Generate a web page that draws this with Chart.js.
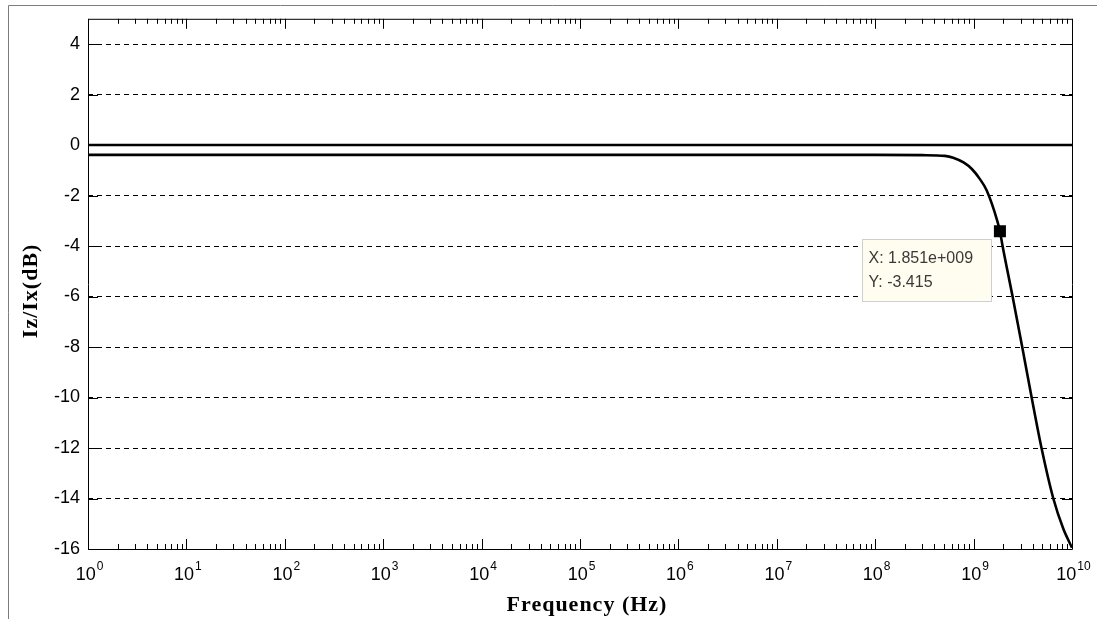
<!DOCTYPE html>
<html>
<head>
<meta charset="utf-8">
<title>Iz/Ix frequency response</title>
<script src="https://cdn.jsdelivr.net/npm/chart.js@4.4.0/dist/chart.umd.min.js"></script>
<style>
  html, body { margin: 0; padding: 0; background: #fff; }
  #wrap { width: 1097px; height: 619px; }
</style>
</head>
<body>
<div id="wrap"><canvas id="resp" width="1097" height="619"></canvas></div>
<script>
// Iz/Ix magnitude response (dB) vs frequency
const freqHz = [1, 1e2, 1e4, 1e6, 1e8, 3e8, 5.1e8, 6.2e8, 7.9e8, 9.6e8, 1.16e9, 1.36e9, 1.74e9, 1.851e9, 1.97e9, 2.49e9, 3.12e9, 3.89e9, 4.9e9, 6.46e9, 8.16e9, 1e10];
const gainDb = [-0.39, -0.39, -0.39, -0.39, -0.39, -0.4, -0.43, -0.5, -0.69, -0.95, -1.35, -1.8, -3.0, -3.415, -4, -6, -8, -10, -12, -14, -15.2, -15.95];

// 0 dB reference line
const refFreqHz = [1, 1e10];
const refDb = [0, 0];

// data cursor
const tipFreqHz = [1.851e9];
const tipDb = [-3.415];

const yTicks = [-16, -14, -12, -10, -8, -6, -4, -2, 0, 2, 4];
const xDecades = [0, 1, 2, 3, 4, 5, 6, 7, 8, 9, 10];
const yMin = -16, yMax = 5;

const xTitle = 'Frequency (Hz)';
const yTitle = 'Iz/Ix(dB)';

const pts = (xs, ys) => xs.map((x, i) => ({ x: x, y: ys[i] }));

// matlab style number for the data cursor, e.g. 1.851e+009
function matlabExp(v) {
  const e = Math.floor(Math.log10(v));
  const m = v / Math.pow(10, e);
  return m.toFixed(3) + 'e' + (e < 0 ? '-' : '+') + String(Math.abs(e)).padStart(3, '0');
}

const axesBox = {
  id: 'axesBox',
  beforeDraw(chart) {
    const ctx = chart.ctx;
    ctx.save();
    ctx.fillStyle = '#fff';
    ctx.fillRect(0, 0, chart.width, chart.height);
    // figure window edge
    ctx.strokeStyle = '#7d7d7d';
    ctx.lineWidth = 1;
    ctx.beginPath();
    ctx.moveTo(8.5, chart.height);
    ctx.lineTo(8.5, 5.5);
    ctx.lineTo(chart.width, 5.5);
    ctx.stroke();
    ctx.restore();
  },
  afterDatasetsDraw(chart) {
    const ctx = chart.ctx;
    const meta = chart.getDatasetMeta(2);
    const p = meta.data[0];
    const bx = Math.round(p.x) - 137.5, by = Math.round(p.y) + 8.5;
    ctx.save();
    ctx.fillStyle = '#fffdf0';
    ctx.strokeStyle = '#cfcfcf';
    ctx.lineWidth = 1;
    ctx.fillRect(bx, by, 129, 62);
    ctx.strokeRect(bx, by, 129, 62);
    ctx.fillStyle = '#3a3a3a';
    ctx.font = '16px "Liberation Sans", Arial, sans-serif';
    ctx.textAlign = 'left';
    ctx.textBaseline = 'alphabetic';
    ctx.fillText('X: ' + matlabExp(tipFreqHz[0]), bx + 6, by + 23);
    ctx.fillText('Y: ' + tipDb[0].toFixed(3), bx + 6, by + 47);
    ctx.restore();
  },
  afterDraw(chart) {
    const { ctx, chartArea: a, scales: { x, y } } = chart;
    ctx.save();
    ctx.strokeStyle = '#000';
    ctx.lineWidth = 1;
    ctx.beginPath();
    ctx.rect(a.left + 0.5, a.top + 0.5, a.right - a.left, a.bottom - a.top);

    // log ticks on top and bottom edges, pointing inward
    xDecades.forEach(d => {
      const px = Math.round(x.getPixelForValue(Math.pow(10, d))) + 0.5;
      ctx.moveTo(px, a.bottom); ctx.lineTo(px, a.bottom - 10);
      ctx.moveTo(px, a.top); ctx.lineTo(px, a.top + 10);
      if (d === xDecades[xDecades.length - 1]) return;
      for (let k = 2; k <= 9; k++) {
        const mx = Math.round(x.getPixelForValue(k * Math.pow(10, d))) + 0.5;
        ctx.moveTo(mx, a.bottom); ctx.lineTo(mx, a.bottom - 5);
        ctx.moveTo(mx, a.top); ctx.lineTo(mx, a.top + 5);
      }
    });
    // y ticks on left and right edges
    yTicks.forEach(v => {
      const py = Math.round(y.getPixelForValue(v)) + 0.5;
      ctx.moveTo(a.left, py); ctx.lineTo(a.left + 10, py);
      ctx.moveTo(a.right, py); ctx.lineTo(a.right - 10, py);
    });
    ctx.stroke();

    // decade labels 10^n
    ctx.fillStyle = '#000';
    ctx.textBaseline = 'alphabetic';
    ctx.textAlign = 'left';
    xDecades.forEach(d => {
      const px = x.getPixelForValue(Math.pow(10, d));
      ctx.font = '18px "Liberation Sans", Arial, sans-serif';
      const wBase = ctx.measureText('10').width;
      ctx.font = '12px "Liberation Sans", Arial, sans-serif';
      const wExp = ctx.measureText(String(d)).width;
      const x0 = px - (wBase + wExp) / 2 + 1;
      ctx.font = '18px "Liberation Sans", Arial, sans-serif';
      ctx.fillText('10', x0, 580);
      ctx.font = '12px "Liberation Sans", Arial, sans-serif';
      ctx.fillText(String(d), x0 + wBase + 1, 570);
    });

    // axis titles
    ctx.font = 'bold 22px "Liberation Serif", "Times New Roman", serif';
    ctx.letterSpacing = '1px';
    ctx.textAlign = 'center';
    ctx.fillText(xTitle, (a.left + a.right) / 2 + 7, 611);
    ctx.translate(37, (a.top + a.bottom) / 2 + 7);
    ctx.rotate(-Math.PI / 2);
    ctx.fillText(yTitle, 0, 0);
    ctx.restore();
  }
};

new Chart('resp', {
  type: 'line',
  data: {
    datasets: [
      {
        data: pts(refFreqHz, refDb),
        borderColor: '#000',
        borderWidth: 2.6,
        pointRadius: 0,
      },
      {
        data: pts(freqHz, gainDb),
        borderColor: '#000',
        borderWidth: 2.6,
        pointRadius: 0,
        cubicInterpolationMode: 'monotone',
      },
      {
        data: pts(tipFreqHz, tipDb),
        showLine: false,
        pointStyle: 'rect',
        pointRadius: 8.5,
        backgroundColor: '#000',
        borderColor: '#000',
        borderWidth: 0,
      },
    ],
  },
  plugins: [axesBox],
  options: {
    responsive: false,
    animation: false,
    events: [],
    layout: { padding: { top: 18, right: 25, left: 0, bottom: 0 } },
    plugins: {
      legend: { display: false },
      tooltip: { enabled: false },
    },
    scales: {
      x: {
        type: 'logarithmic',
        min: 1,
        max: 1e10,
        ticks: { display: false },
        grid: { display: false },
        border: { display: false },
        afterFit: s => { s.height = 70; },
      },
      y: {
        min: yMin,
        max: yMax,
        afterBuildTicks: s => { s.ticks = yTicks.map(v => ({ value: v })); },
        afterFit: s => { s.width = 88; },
        ticks: {
          color: '#000',
          padding: 8,
          font: { family: '"Liberation Sans", Arial, sans-serif', size: 18 },
        },
        grid: { color: '#000', lineWidth: 1, drawTicks: false },
        border: { display: false, dash: [5, 4] },
      },
    },
  },
});
</script>
</body>
</html>
